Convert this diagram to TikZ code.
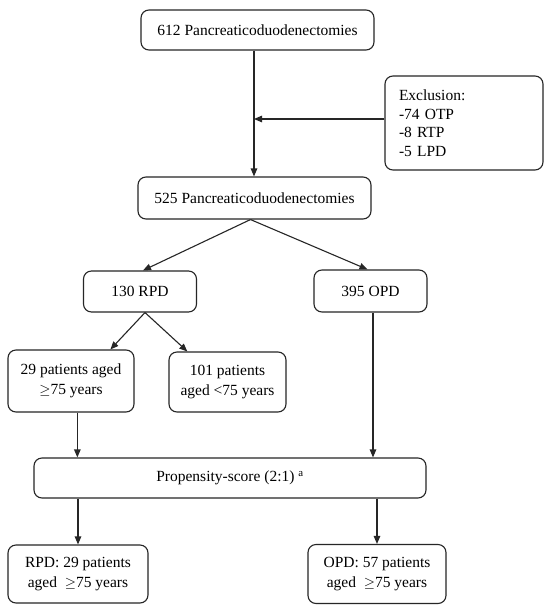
\documentclass[tikz,border=0pt]{standalone}
\usepackage{fontspec}
\setmainfont{Liberation Serif}
\usetikzlibrary{arrows.meta,calc}
\begin{document}
\begin{tikzpicture}[x=1pt,y=-1pt,
  box/.style={draw=black!85,line width=1.1pt,rounded corners=8pt,align=center,
    inner sep=2pt,font=\fontsize{15.5}{19.5}\selectfont},
  arr/.style={draw=black!85,line width=1.1pt,-{Triangle[length=8pt,width=6.5pt]}}]
\useasboundingbox[fill=white] (0,0) rectangle (550,611);
\node[box,minimum width=233pt,minimum height=40pt] (n612) at (257.5,30) {612 Pancreaticoduodenectomies};
\node[box,minimum width=158pt,minimum height=94pt,align=left,text width=130pt,inner xsep=14pt,
  font=\fontsize{15.5}{18.5}\selectfont] (excl) at (464,123) {Exclusion:\\-74 OTP\\-8 RTP\\-5 LPD};
\node[box,minimum width=233pt,minimum height=42pt] (n525) at (254.5,198) {525 Pancreaticoduodenectomies};
\node[box,minimum width=113pt,minimum height=41pt] (rpd) at (140,291.5) {130 RPD};
\node[box,minimum width=113pt,minimum height=42pt] (opd) at (370.5,291) {395 OPD};
\node[box,minimum width=126pt,minimum height=62pt] (old) at (71,381) {29 patients aged\\$\geq$75 years};
\node[box,minimum width=117pt,minimum height=60pt] (young) at (227.5,382) {101 patients\\aged <75 years};
\node[box,minimum width=392pt,minimum height=40pt] (prop) at (230,478) {Propensity-score (2:1) \textsuperscript{a}};
\node[box,minimum width=140pt,minimum height=58pt] (frpd) at (78,574) {RPD: 29 patients\\aged \ $\geq$75 years};
\node[box,minimum width=138pt,minimum height=59pt] (fopd) at (377,574) {OPD: 57 patients\\aged \ $\geq$75 years};
\coordinate (j) at (254,119);
\draw[draw=black!85,line width=1.1pt] (n612.south -| j) -- (j);
\draw[arr] (j) -- (j |- n525.north);
\draw[arr] (excl.west |- j) -- (j);
\draw[arr] ($(n525.south)+(-4,0)$) -- ($(rpd.north)+(3,0)$);
\draw[arr] ($(n525.south)+(-4,0)$) -- ($(opd.north)+(-3,0)$);
\draw[arr] ($(rpd.south)+(5,0)$) -- ($(old.north west)!0.81!(old.north east)$);
\draw[arr] ($(rpd.south)+(5,0)$) -- ($(young.north west)!0.16!(young.north east)$);
\coordinate (os) at ($(old.south west)!0.55!(old.south east)$);
\draw[arr] (os) -- (os |- prop.north);
\draw[arr] ($(opd.south)+(2.5,0)$) -- ($(opd.south |- prop.north)+(2.5,0)$);
\draw[arr] (prop.south -| frpd.north) -- (frpd.north);
\draw[arr] (prop.south -| fopd.north) -- (fopd.north);
\end{tikzpicture}
\end{document}
